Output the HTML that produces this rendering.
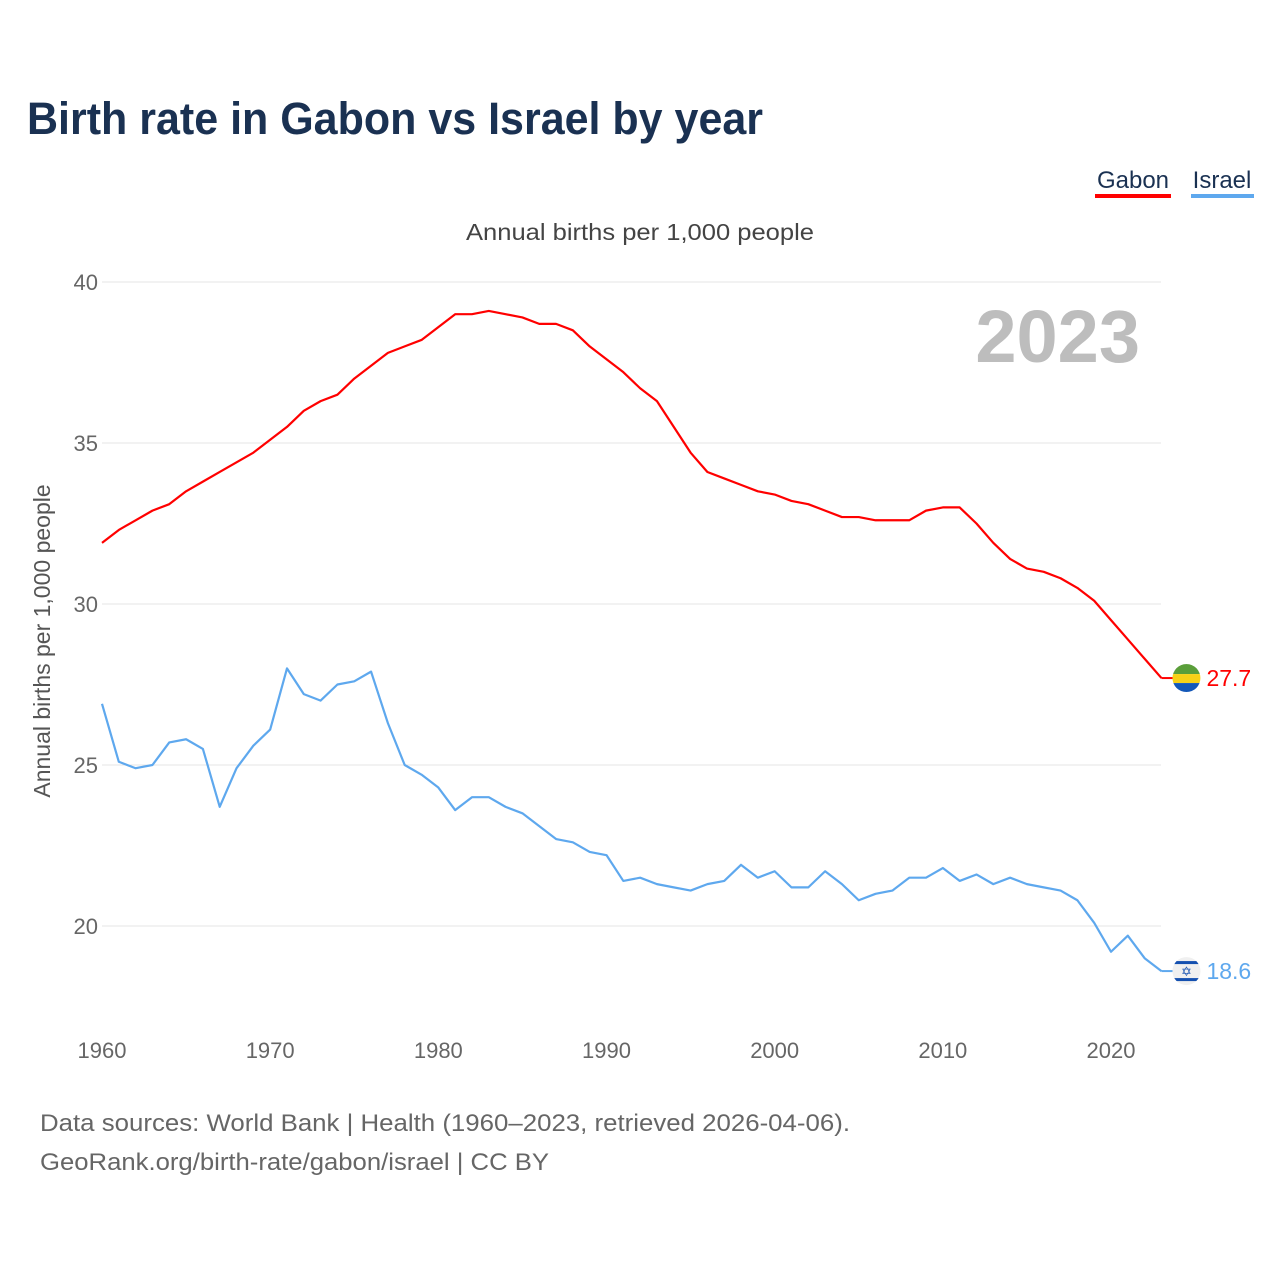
<!DOCTYPE html>
<html><head><meta charset="utf-8"><style>
body{margin:0;background:#fff;width:1280px;height:1280px;overflow:hidden;font-family:"Liberation Sans",sans-serif}
</style></head><body>
<svg id="chart" width="1280" height="1280" viewBox="0 0 1280 1280" xmlns="http://www.w3.org/2000/svg">
<text x="27" y="134" font-size="45" font-weight="bold" fill="#1a3152" textLength="736" lengthAdjust="spacingAndGlyphs">Birth rate in Gabon vs Israel by year</text>
<g><text x="1133" y="188" font-size="24" fill="#1a3152" text-anchor="middle">Gabon</text><rect x="1095" y="194" width="76" height="4" fill="#ff0000"/></g>
<g><text x="1222" y="188" font-size="24" fill="#1a3152" text-anchor="middle">Israel</text><rect x="1191" y="194" width="63" height="4" fill="#5ea8ee"/></g>
<text x="640" y="240" font-size="23" fill="#444" text-anchor="middle" textLength="348" lengthAdjust="spacingAndGlyphs">Annual births per 1,000 people</text>
<text x="50" y="641" font-size="23" fill="#555" text-anchor="middle" transform="rotate(-90 50 641)">Annual births per 1,000 people</text>
<text x="1140" y="362" font-size="74" font-weight="bold" fill="#bdbdbd" text-anchor="end">2023</text>
<g id="grid"></g><g id="xt"></g><g id="lines"></g>
<text x="40" y="1131" font-size="24" fill="#666" textLength="810" lengthAdjust="spacingAndGlyphs">Data sources: World Bank | Health (1960–2023, retrieved 2026-04-06).</text>
<text x="40" y="1170" font-size="24" fill="#666" textLength="509" lengthAdjust="spacingAndGlyphs">GeoRank.org/birth-rate/gabon/israel | CC BY</text>
</svg>
<script>
const years=[];for(let y=1960;y<=2023;y++)years.push(y);
const gabon=[31.9,32.3,32.6,32.9,33.1,33.5,33.8,34.1,34.4,34.7,35.1,35.5,36.0,36.3,36.5,37.0,37.4,37.8,38.0,38.2,38.6,39.0,39.0,39.1,39.0,38.9,38.7,38.7,38.5,38.0,37.6,37.2,36.7,36.3,35.5,34.7,34.1,33.9,33.7,33.5,33.4,33.2,33.1,32.9,32.7,32.7,32.6,32.6,32.6,32.9,33.0,33.0,32.5,31.9,31.4,31.1,31.0,30.8,30.5,30.1,29.5,28.9,28.3,27.7];
const israel=[26.9,25.1,24.9,25.0,25.7,25.8,25.5,23.7,24.9,25.6,26.1,28.0,27.2,27.0,27.5,27.6,27.9,26.3,25.0,24.7,24.3,23.6,24.0,24.0,23.7,23.5,23.1,22.7,22.6,22.3,22.2,21.4,21.5,21.3,21.2,21.1,21.3,21.4,21.9,21.5,21.7,21.2,21.2,21.7,21.3,20.8,21.0,21.1,21.5,21.5,21.8,21.4,21.6,21.3,21.5,21.3,21.2,21.1,20.8,20.1,19.2,19.7,19.0,18.6];
const yTicks=[20,25,30,35,40];
const xTicks=[1960,1970,1980,1990,2000,2010,2020];
const NS="http://www.w3.org/2000/svg";
const xs=y=>102+(y-1960)*(1111-102)/60;
const ys=v=>926-(v-20)*(926-282)/20;
function mk(t,a,p){const e=document.createElementNS(NS,t);for(const k in a)e.setAttribute(k,a[k]);p.appendChild(e);return e;}
const grid=document.getElementById('grid');
yTicks.forEach(v=>{
 const l=mk('line',{x1:102,x2:1161,y1:ys(v),y2:ys(v),stroke:'#e6e6e6','stroke-width':1},grid);
 
 
 const t=mk('text',{x:98,y:ys(v)+8,'font-size':22,fill:'#666','text-anchor':'end'},grid);t.textContent=v;
 
 
});
const xt=document.getElementById('xt');
xTicks.forEach(v=>{
 const t=mk('text',{x:xs(v),y:1058,'font-size':22,fill:'#666','text-anchor':'middle'},xt);t.textContent=v;
 
 
});
const lines=document.getElementById('lines');
function series(data,color,name,flag){
 const p=mk('polyline',{points:data.map((v,i)=>xs(years[i])+','+ys(v)).join(' '),fill:'none',stroke:color,'stroke-width':2.2,'stroke-linejoin':'round'},lines);
 
 
 const last=data[data.length-1],lx=xs(2023),ly=ys(last);
 mk('line',{x1:lx,x2:lx+12,y1:ly,y2:ly,stroke:color,'stroke-width':2},lines);
 const g=mk('g',{},lines);
 
 
 const cx=lx+25;
 const cp='cp'+name;
 const c=mk('clipPath',{id:cp},g);mk('circle',{cx:cx,cy:ly,r:14},c);
 if(flag==='ga'){
  mk('rect',{x:cx-14,y:ly-14,width:28,height:10,fill:'#5a9e3a','clip-path':'url(#'+cp+')'},g);
  mk('rect',{x:cx-14,y:ly-4,width:28,height:9,fill:'#f7d117','clip-path':'url(#'+cp+')'},g);
  mk('rect',{x:cx-14,y:ly+5,width:28,height:9,fill:'#1458b8','clip-path':'url(#'+cp+')'},g);
 }else{
  mk('circle',{cx:cx,cy:ly,r:14,fill:'#f0f0f0'},g);
  mk('rect',{x:cx-14,y:ly-10,width:28,height:3,fill:'#1450b0','clip-path':'url(#'+cp+')'},g);
  mk('rect',{x:cx-14,y:ly+7,width:28,height:3,fill:'#1450b0','clip-path':'url(#'+cp+')'},g);
  const s=mk('text',{x:cx,y:ly+5,'font-size':13,fill:'#1450b0','text-anchor':'middle'},g);s.textContent='✡';
 }
 const t=mk('text',{x:cx+20,y:ly+8,'font-size':23,fill:color},lines);t.textContent=last.toFixed(1);
 
 
}
series(gabon,'#ff0000','gabon','ga');
series(israel,'#5ea8ee','israel','il');
</script>
</body></html>
